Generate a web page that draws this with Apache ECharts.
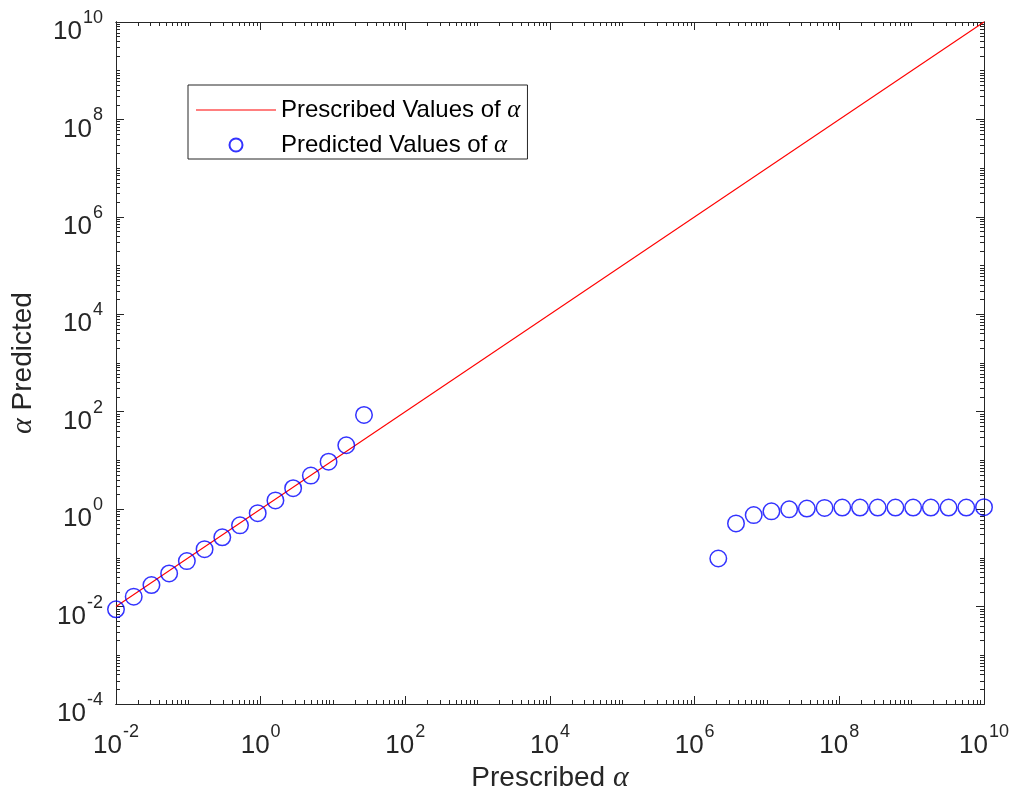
<!DOCTYPE html>
<html>
<head>
<meta charset="utf-8">
<script src="https://cdn.jsdelivr.net/npm/echarts@6/dist/echarts.min.js"></script>
<style>html,body{margin:0;padding:0;background:#fff}#c{width:1014px;height:798px}</style>
</head>
<body>
<div id="c"></div>
<script>
// ---- data ----
const prescribedX = [0.01, 1e10];
const prescribedY = [0.01, 1e10];
const predictedX = [0.01, 0.01758, 0.0309, 0.0543, 0.0954, 0.1677, 0.2947, 0.518, 0.910, 1.600, 2.812, 4.942, 8.685, 15.26, 26.83,
  2.121e6, 3.728e6, 6.551e6, 1.151e7, 2.024e7, 3.556e7, 6.251e7, 1.099e8, 1.931e8, 3.393e8, 5.964e8, 1.048e9, 1.842e9, 3.237e9, 5.690e9, 1e10];
const predictedY = [0.0088, 0.0160, 0.0277, 0.0479, 0.0857, 0.151, 0.264, 0.465, 0.828, 1.51, 2.69, 4.88, 9.40, 20.5, 85.7,
  0.097, 0.51, 0.755, 0.90, 0.99, 1.03, 1.06, 1.08, 1.08, 1.08, 1.08, 1.08, 1.08, 1.08, 1.08, 1.10];
const xTickExponents = [-2, 0, 2, 4, 6, 8, 10];
const yTickExponents = [-4, -2, 0, 2, 4, 6, 8, 10];
const seriesNames = ['Prescribed Values of α', 'Predicted Values of α'];

// ---- helpers ----
function minorTicks(lo, hi, majors) {
  const out = [];
  for (let k = lo; k < hi; k++) {
    for (let m = 1; m <= 9; m++) {
      if (m === 1 && majors.indexOf(k) >= 0) continue;
      out.push(k + Math.log10(m));
    }
  }
  return out;
}
const xMinor = minorTicks(-2, 10, xTickExponents);
const yMinor = minorTicks(-4, 10, yTickExponents);

const AX = '#262626';
const FONT = 'Liberation Sans, Arial, Helvetica, sans-serif';
const SERIF = 'Liberation Serif, DejaVu Serif, serif';
const labelRich = {
  b: { fontSize: 26, lineHeight: 36, verticalAlign: 'bottom', color: AX, fontFamily: FONT },
  s: { fontSize: 18, lineHeight: 18, verticalAlign: 'top', color: AX, fontFamily: FONT, padding: [0, 0, 0, 1] }
};
const expFmt = v => '{b|10}{s|' + String(Math.round(v)) + '}';

function tickAxis(pos, min, max, values, len, withLabels, isY) {
  const a = {
    type: 'value', position: pos, min: min, max: max,
    axisLine: { show: true, onZero: false, lineStyle: { color: AX, width: 1 } },
    axisTick: { show: true, inside: true, length: len, customValues: values, lineStyle: { color: AX, width: 1 } },
    axisLabel: { show: false },
    splitLine: { show: false }
  };
  if (withLabels) {
    a.axisLabel = {
      show: true, customValues: values, formatter: expFmt, rich: labelRich,
      margin: isY ? 13 : 19, padding: isY ? [10, 0, 0, 0] : 0, hideOverlap: false
    };
  }
  return a;
}

const chart = echarts.init(document.getElementById('c'), null, { renderer: 'canvas' });
chart.setOption({
  backgroundColor: '#ffffff',
  animation: false,
  grid: { left: 115, right: 30, top: 22, bottom: 90, containLabel: false },
  legend: {
    orient: 'vertical', left: 188, top: 85,
    padding: [12, 7, 1, 8], itemGap: 9, itemWidth: 80, itemHeight: 13,
    backgroundColor: '#ffffff', borderColor: AX, borderWidth: 1,
    data: [
      { name: seriesNames[0], icon: 'path://M0,0 L80,0 L80,1.2 L0,1.2 Z' },
      { name: seriesNames[1] }
    ],
    formatter: n => n.replace('α', '{a|α}'),
    textStyle: {
      fontSize: 24, lineHeight: 26, color: '#000', fontFamily: FONT,
      rich: { a: { fontSize: 25, lineHeight: 26, fontFamily: SERIF, fontStyle: 'italic', color: '#000' } }
    }
  },
  xAxis: [
    {
      type: 'log', logBase: 10, min: 0.01, max: 1e10, position: 'bottom',
      name: '{t|Prescribed }{a|α}', nameLocation: 'middle', nameGap: 59,
      nameTextStyle: {
        rich: {
          t: { fontSize: 28, color: AX, fontFamily: FONT },
          a: { fontSize: 30, color: AX, fontFamily: SERIF, fontStyle: 'italic' }
        }
      },
      axisLine: { show: true, onZero: false, lineStyle: { color: AX } },
      axisTick: { show: false }, axisLabel: { show: false }, splitLine: { show: false }
    },
    tickAxis('bottom', -2, 10, xTickExponents, 8, true, false),
    tickAxis('bottom', -2, 10, xMinor, 4, false, false),
    tickAxis('top', -2, 10, xTickExponents, 8, false, false),
    tickAxis('top', -2, 10, xMinor, 4, false, false)
  ],
  yAxis: [
    {
      type: 'log', logBase: 10, min: 1e-4, max: 1e10, position: 'left',
      name: '{a|α}{t| Predicted}', nameLocation: 'middle', nameGap: 78, nameRotate: 90,
      nameTextStyle: {
        rich: {
          t: { fontSize: 28, color: AX, fontFamily: FONT },
          a: { fontSize: 30, color: AX, fontFamily: SERIF, fontStyle: 'italic' }
        }
      },
      axisLine: { show: true, onZero: false, lineStyle: { color: AX } },
      axisTick: { show: false }, axisLabel: { show: false }, splitLine: { show: false }
    },
    tickAxis('left', -4, 10, yTickExponents, 8, true, true),
    tickAxis('left', -4, 10, yMinor, 4, false, true),
    tickAxis('right', -4, 10, yTickExponents, 8, false, true),
    tickAxis('right', -4, 10, yMinor, 4, false, true)
  ],
  series: [
    {
      name: seriesNames[0], type: 'line', xAxisIndex: 0, yAxisIndex: 0,
      data: prescribedX.map((x, i) => [x, prescribedY[i]]),
      symbol: 'none', showSymbol: false, clip: false,
      lineStyle: { color: '#ff0000', width: 1.1 }, itemStyle: { color: '#ff0000' }, z: 2
    },
    {
      name: seriesNames[1], type: 'scatter', xAxisIndex: 0, yAxisIndex: 0,
      data: predictedX.map((x, i) => [x, predictedY[i]]),
      symbol: 'circle', symbolSize: 16.5, clip: false,
      itemStyle: { color: 'rgba(0,0,0,0)', borderColor: '#0000ff', borderWidth: 1.5 }, z: 3
    }
  ]
});
</script>
</body>
</html>
